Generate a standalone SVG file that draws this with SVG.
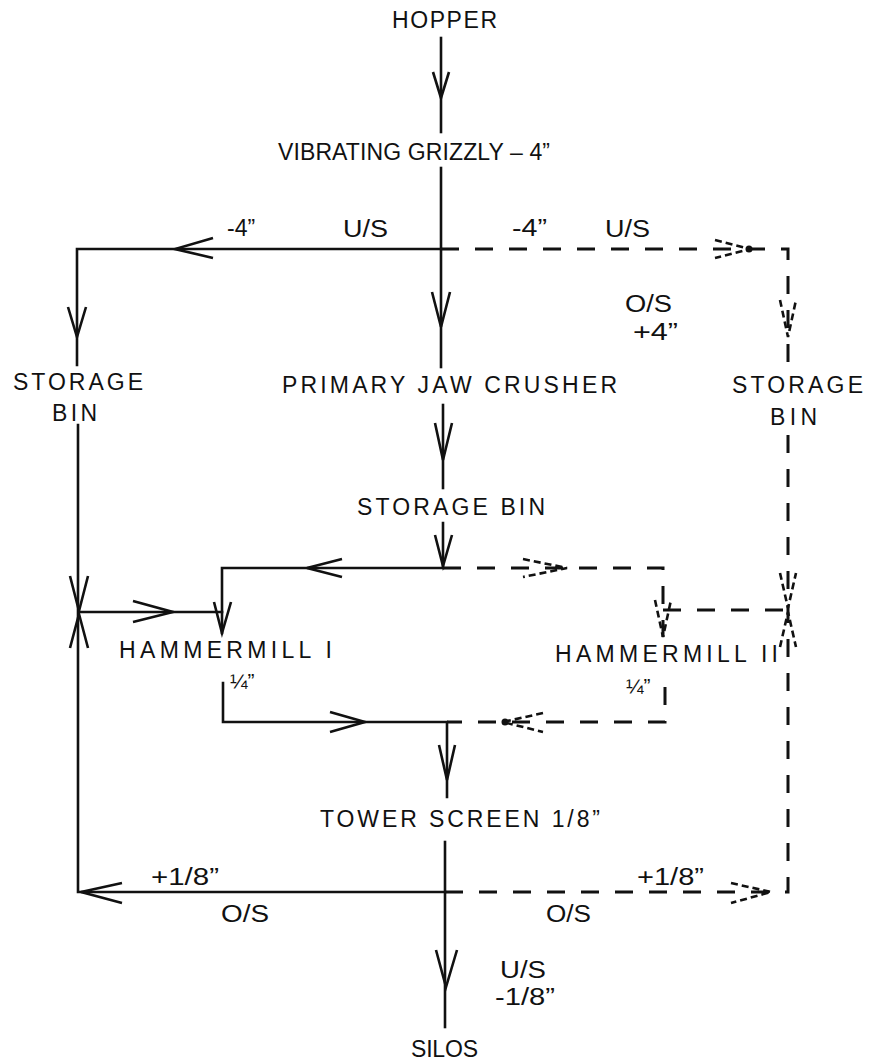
<svg xmlns="http://www.w3.org/2000/svg" width="870" height="1064" viewBox="0 0 870 1064">
<style>
text{font-family:"Liberation Sans",Arial,sans-serif;font-size:23px;fill:#111}
.s{font-size:23px}
.q{font-size:21px}
.ln{fill:none;stroke:#111;stroke-width:2.6;stroke-linecap:square}
.ah{fill:none;stroke:#111;stroke-width:2.6;stroke-linejoin:miter}
.dl{fill:none;stroke:#111;stroke-width:3;stroke-dasharray:18 16}
.da{fill:none;stroke:#111;stroke-width:2.6;stroke-dasharray:7 4}
.dot{fill:#111}
</style>
<rect width="870" height="1064" fill="#fff"/>
<g id="connectors">
  <path class="ln" d="M441,38 V132"/>
  <path class="ln" d="M441,168 V367"/>
  <path class="ln" d="M441,249 H77 V365"/>
  <path class="ln" d="M78,425 V892 H445"/>
  <path class="ln" d="M79,612 H222"/>
  <path class="ln" d="M443,405 V488"/>
  <path class="ln" d="M443,523 V568 H222 V633"/>
  <path class="ln" d="M223,683 V722 H447 V797"/>
  <path class="ln" d="M445,842 V1027"/>
  <polyline class="ah" points="433,72 441,98 449,72"/>
  <polyline class="ah" points="432,292 441,327 450,292"/>
  <polyline class="ah" points="213,238 175,249 213,258"/>
  <polyline class="ah" points="68,307 77,337 86,307"/>
  <polyline class="ah" points="70,576 79,611 88,576"/>
  <polyline class="ah" points="70,648 79,614 88,648"/>
  <polyline class="ah" points="133,601 173,612 133,622"/>
  <polyline class="ah" points="435,423 443,460 452,423"/>
  <polyline class="ah" points="435,535 443,566 452,535"/>
  <polyline class="ah" points="342,559 307,568 342,577"/>
  <polyline class="ah" points="214,602 222,633 231,602"/>
  <polyline class="ah" points="330,712 365,722 330,732"/>
  <polyline class="ah" points="439,745 447,780 455,745"/>
  <polyline class="ah" points="436,950 446,987 457,950"/>
  <polyline class="ah" points="122,883 81,892 122,903"/>
  <path class="dl" d="M441,249 H788 V365"/>
  <path class="dl" d="M788,435 V892 H445"/>
  <path class="dl" d="M663,610 H788"/>
  <path class="dl" d="M443,568 H663 V637"/>
  <path class="dl" d="M665,687 V722 H447"/>
  <polyline class="da" points="715,240 750,249 715,258"/>
  <circle class="dot" cx="749" cy="249" r="3.5"/>
  <polyline class="da" points="780,300 788,337 796,300"/>
  <polyline class="da" points="780,573 788,608 796,573"/>
  <polyline class="da" points="780,647 788,612 796,647"/>
  <polyline class="da" points="523,559 567,568 523,577"/>
  <polyline class="da" points="655,600 663,637 671,600"/>
  <polyline class="da" points="543,713 503,722 543,732"/>
  <circle class="dot" cx="505" cy="722" r="3.5"/>
  <polyline class="da" points="731,883 771,892 731,903"/>
  <text class="s" x="227" y="236">-4”</text>
  <text class="s" x="343" y="237" textLength="45" lengthAdjust="spacingAndGlyphs">U/S</text>
  <text class="s" x="512" y="236" textLength="35" lengthAdjust="spacingAndGlyphs">-4”</text>
  <text class="s" x="605" y="237" textLength="45" lengthAdjust="spacingAndGlyphs">U/S</text>
  <text class="s" x="625" y="312" textLength="47" lengthAdjust="spacingAndGlyphs">O/S</text>
  <text class="s" x="633" y="340" textLength="45" lengthAdjust="spacingAndGlyphs">+4”</text>
  <text class="q" x="230" y="688">¼”</text>
  <text class="q" x="626" y="693">¼”</text>
  <text class="s" x="151" y="885" textLength="68" lengthAdjust="spacingAndGlyphs">+1/8”</text>
  <text class="s" x="221" y="922" textLength="48" lengthAdjust="spacingAndGlyphs">O/S</text>
  <text class="s" x="637" y="885" textLength="67" lengthAdjust="spacingAndGlyphs">+1/8”</text>
  <text class="s" x="546" y="922" textLength="45" lengthAdjust="spacingAndGlyphs">O/S</text>
  <text class="s" x="500" y="978" textLength="46" lengthAdjust="spacingAndGlyphs">U/S</text>
  <text class="s" x="495" y="1005" textLength="60" lengthAdjust="spacingAndGlyphs">-1/8”</text>
</g>
<g id="hopper"><text x="392" y="28" textLength="105" lengthAdjust="spacing">HOPPER</text></g>
<g id="vibrating-grizzly"><text x="278" y="160" textLength="272" lengthAdjust="spacing">VIBRATING GRIZZLY – 4”</text></g>
<g id="storage-bin-left"><text x="13" y="390" textLength="130" lengthAdjust="spacing">STORAGE</text><text x="52" y="421" textLength="45" lengthAdjust="spacing">BIN</text></g>
<g id="primary-jaw-crusher"><text x="282" y="393" textLength="335" lengthAdjust="spacing">PRIMARY JAW CRUSHER</text></g>
<g id="storage-bin-right"><text x="732" y="393" textLength="131" lengthAdjust="spacing">STORAGE</text><text x="770" y="425" textLength="47" lengthAdjust="spacing">BIN</text></g>
<g id="storage-bin-mid"><text x="357" y="515" textLength="188" lengthAdjust="spacing">STORAGE BIN</text></g>
<g id="hammermill-1"><text x="119" y="658" textLength="213" lengthAdjust="spacing">HAMMERMILL I</text></g>
<g id="hammermill-2"><text x="555" y="662" textLength="223" lengthAdjust="spacing">HAMMERMILL II</text></g>
<g id="tower-screen"><text x="320" y="827" textLength="280" lengthAdjust="spacing">TOWER SCREEN 1/8”</text></g>
<g id="silos"><text x="411" y="1057" textLength="67" lengthAdjust="spacing">SILOS</text></g>
</svg>
